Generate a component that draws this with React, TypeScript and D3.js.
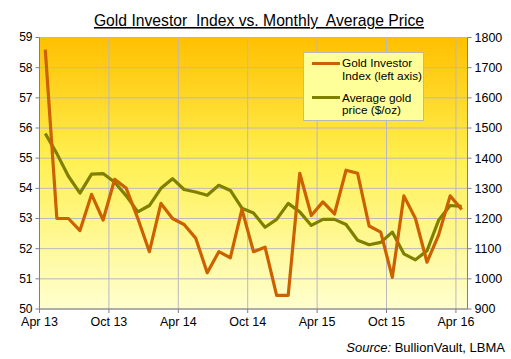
import React from "react";
import * as d3 from "d3";

const months: string[] = [
  "2013-04","2013-05","2013-06","2013-07","2013-08","2013-09","2013-10","2013-11","2013-12",
  "2014-01","2014-02","2014-03","2014-04","2014-05","2014-06","2014-07","2014-08","2014-09","2014-10","2014-11","2014-12",
  "2015-01","2015-02","2015-03","2015-04","2015-05","2015-06","2015-07","2015-08","2015-09","2015-10","2015-11","2015-12",
  "2016-01","2016-02","2016-03","2016-04",
];

const investorIndex: number[] = [
  58.6, 53.0, 53.0, 52.6, 53.8, 52.95, 54.3, 54.0, 53.0,
  51.9, 53.5, 53.0, 52.8, 52.35, 51.2, 51.9, 51.7, 53.3, 51.9, 52.05, 50.45,
  50.45, 54.5, 53.1, 53.55, 53.15, 54.6, 54.5, 52.75, 52.55, 51.05, 53.75, 53.0,
  51.55, 52.45, 53.75, 53.3,
];

const goldPrice: number[] = [
  1482, 1415, 1340, 1284, 1347, 1349, 1320, 1275, 1222,
  1243, 1300, 1332, 1296, 1288, 1277, 1310, 1293, 1234, 1218, 1171, 1197,
  1250, 1222, 1177, 1197, 1197, 1180, 1128, 1113, 1121, 1155, 1083, 1063,
  1093, 1194, 1243, 1240,
];

const tickMonths: string[] = ["2013-04", "2013-10", "2014-04", "2014-10", "2015-04", "2015-10", "2016-04"];
const tickLabels: string[] = ["Apr 13", "Oct 13", "Apr 14", "Oct 14", "Apr 15", "Oct 15", "Apr 16"];
const leftTicks: number[] = [50, 51, 52, 53, 54, 55, 56, 57, 58, 59];
const rightTicks: number[] = [900, 1000, 1100, 1200, 1300, 1400, 1500, 1600, 1700, 1800];

const W = 511, H = 359;
const L = 39.5, R = 467.5, T = 37.5, B = 309;
const FONT = "Arial, 'Liberation Sans', sans-serif";
const ORANGE = "#CC6100";
const OLIVE = "#808000";
const GRID = "#B8B8C0";

export default function App() {
  const x = d3.scaleBand<string>().domain(months).range([L, R]).paddingInner(0).paddingOuter(0);
  const xc = (m: string) => (x(m) as number) + x.bandwidth() / 2;
  const yL = d3.scaleLinear().domain([50, 59]).range([B, T]);
  const yR = d3.scaleLinear().domain([900, 1800]).range([B, T]);

  const lineIdx = d3.line<number>().x((_, i) => xc(months[i])).y((d) => yL(d));
  const linePrice = d3.line<number>().x((_, i) => xc(months[i])).y((d) => yR(d));

  return (
    <svg width={W} height={H} style={{ position: "absolute", left: 0, top: 0, background: "#fff" }} fontFamily={FONT}>
      <defs>
        <linearGradient id="bg" x1="0" y1="0" x2="0" y2="1">
          <stop offset="0%" stopColor="#FFC000" />
          <stop offset="45%" stopColor="#FFF050" />
          <stop offset="100%" stopColor="#FFFFCF" />
        </linearGradient>
      </defs>
      <text x={259} y={26} textAnchor="middle" fontSize={15.7} textDecoration="underline" style={{ whiteSpace: "pre" }}>
        {"Gold Investor  Index vs. Monthly  Average Price"}
      </text>
      <rect x={L} y={T} width={R - L} height={B - T} fill="url(#bg)" />
      {leftTicks.map((t) => (
        <line key={"h" + t} x1={L} x2={R} y1={yL(t)} y2={yL(t)} stroke={GRID} strokeWidth={1} />
      ))}
      {tickMonths.map((m) => (
        <line key={"v" + m} x1={x(m) as number} x2={x(m) as number} y1={T} y2={B} stroke={GRID} strokeWidth={1} />
      ))}
      {/* axes */}
      <line x1={L} x2={L} y1={T} y2={B} stroke="#808080" strokeWidth={1} />
      <line x1={R} x2={R} y1={T} y2={B} stroke="#808080" strokeWidth={1} />
      <line x1={L} x2={R} y1={B} y2={B} stroke="#808080" strokeWidth={1} />
      {leftTicks.map((t) => (
        <g key={"lt" + t}>
          <line x1={L - 4} x2={L} y1={yL(t)} y2={yL(t)} stroke="#808080" />
          <text x={L - 7} y={yL(t)} dy="0.33em" textAnchor="end" fontSize={12}>{t}</text>
        </g>
      ))}
      {rightTicks.map((t) => (
        <g key={"rt" + t}>
          <line x1={R} x2={R + 4} y1={yR(t)} y2={yR(t)} stroke="#808080" />
          <text x={R + 7} y={yR(t)} dy="0.35em" textAnchor="start" fontSize={12.5}>{t}</text>
        </g>
      ))}
      {tickMonths.map((m, i) => (
        <g key={"xt" + m}>
          <line x1={x(m) as number} x2={x(m) as number} y1={B} y2={B + 4} stroke="#808080" />
          <text x={x(m) as number} y={B + 17} textAnchor="middle" fontSize={12.5}>{tickLabels[i]}</text>
        </g>
      ))}
      <path d={linePrice(goldPrice) as string} fill="none" stroke={OLIVE} strokeWidth={3.2} strokeLinejoin="round" />
      <path d={lineIdx(investorIndex) as string} fill="none" stroke={ORANGE} strokeWidth={3.2} strokeLinejoin="round" />
      {/* legend */}
      <rect x={303.5} y={52.5} width={120} height={68} fill="#FFFF99" stroke="#B8B8B8" strokeWidth={1} />
      <line x1={312} x2={340} y1={63.5} y2={63.5} stroke={ORANGE} strokeWidth={3} />
      <text x={342} y={67} fontSize={11.8}>Gold Investor</text>
      <text x={342} y={79.5} fontSize={11.8}>Index (left axis)</text>
      <line x1={312} x2={340} y1={97.5} y2={97.5} stroke={OLIVE} strokeWidth={3} />
      <text x={342} y={101.5} fontSize={11.8}>Average gold</text>
      <text x={342} y={114} fontSize={11.8}>price ($/oz)</text>
      <text x={505} y={352} textAnchor="end" fontSize={13}>
        <tspan fontStyle="italic">Source:</tspan> BullionVault, LBMA
      </text>
    </svg>
  );
}
